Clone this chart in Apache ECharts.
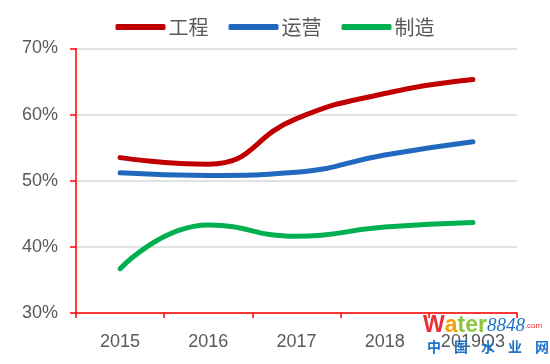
<!DOCTYPE html>
<html><head><meta charset="utf-8">
<script src="https://cdn.jsdelivr.net/npm/echarts@6/dist/echarts.min.js"></script>
<style>html,body{margin:0;padding:0;background:#fff}#c{width:550px;height:364px}</style>
</head><body><div id="c"></div>
<script>
const categories = ['2015','2016','2017','2018','2019Q3'];
const engineering = [53.5, 52.5, 59.4, 63.2, 65.3];
const operation = [51.2, 50.8, 51.3, 53.9, 55.9];
const manufacturing = [36.7, 43.3, 41.6, 43.0, 43.7];
const yTicks = [30, 40, 50, 60, 70];
const seriesNames = ['工程','运营','制造'];
const colors = ['#C00000','#2169BE','#00B050'];
const watermarkChars = ['中','国','水','业','网'];

const chart = echarts.init(document.getElementById('c'));
const font = '"Liberation Sans", "Noto Sans CJK SC", sans-serif';
const mk = (name, data, color) => ({
  name, type: 'line', data, smooth: 0.5, symbol: 'none',
  lineStyle: {color, width: 5, cap: 'round'}, itemStyle: {color}
});
chart.setOption({
  animation: false,
  color: colors,
  legend: {
    top: 12, left: 'center', icon: 'roundRect', itemWidth: 50, itemHeight: 6, itemGap: 20,
    textStyle: {color: '#595959', fontSize: 20, fontFamily: '"Noto Sans CJK SC", sans-serif', padding: [0,0,0,-2]},
    data: seriesNames
  },
  grid: {left: 76, right: 33, top: 48.5, bottom: 51},
  xAxis: {
    type: 'category', data: categories, boundaryGap: true,
    axisLine: {lineStyle: {color: '#FF0000', width: 1.5}},
    axisTick: {show: true, length: 5, lineStyle: {color: '#FF0000', width: 1.5}},
    axisLabel: {color: '#595959', fontSize: 18, fontFamily: font, margin: 20}
  },
  yAxis: {
    type: 'value', min: yTicks[0], max: yTicks[yTicks.length-1], interval: 10,
    axisLine: {show: true, lineStyle: {color: '#FF0000', width: 1.5}},
    axisTick: {show: true, length: 6, lineStyle: {color: '#FF0000', width: 1.5}},
    splitLine: {lineStyle: {color: '#D9D9D9', width: 1.5}},
    axisLabel: {color: '#595959', fontSize: 18, fontFamily: font, margin: 18, formatter: v => v + '%'}
  },
  series: [
    mk(seriesNames[0], engineering, colors[0]),
    mk(seriesNames[1], operation, colors[1]),
    mk(seriesNames[2], manufacturing, colors[2])
  ],
  graphic: [
    {type: 'text', left: 423, top: 314, z: 100, style: {
      rich: {
        a: {fill: '#E8303A', fontSize: 23, fontWeight: 'bold', fontFamily: font},
        b: {fill: '#F4A300', fontSize: 23, fontWeight: 'bold', fontFamily: font},
        c: {fill: '#8CC63F', fontSize: 23, fontWeight: 'bold', fontFamily: font},
        d: {fill: '#1E73C8', fontSize: 19, fontStyle: 'italic', fontFamily: '"Liberation Serif", serif'},
        e: {fill: '#E8303A', fontSize: 8, fontFamily: font}
      },
      text: '{a|W}{b|a}{c|ter}{d|8848}{e|.com}'
    }}
  ].concat(watermarkChars.map((ch, i) => ({
    type: 'text', left: 427 + i * 27, top: 340, z: 100,
    style: {text: ch, fill: '#1E73C8', fontSize: 14, fontWeight: 'bold', fontFamily: '"Noto Sans CJK SC", sans-serif'}
  })))
});
</script></body></html>
